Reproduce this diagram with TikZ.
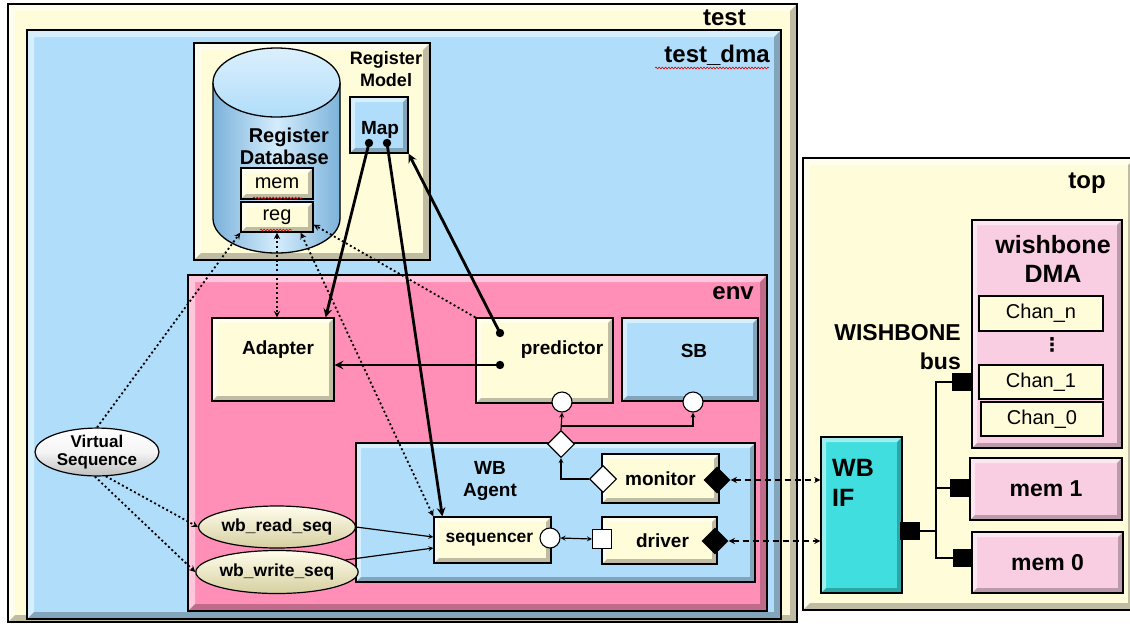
\documentclass[tikz,border=0pt]{standalone}
\usepackage{fontspec}
\setmainfont{Liberation Sans}
\newfontfamily\dotsfont{DejaVu Sans}
\usetikzlibrary{shapes.geometric,decorations.pathmorphing}

\definecolor{cream}{RGB}{255,252,218}
\definecolor{skyblue}{RGB}{176,221,250}
\definecolor{dbblue}{RGB}{124,178,218}
\definecolor{envpink}{RGB}{255,143,183}
\definecolor{dmapink}{RGB}{250,206,226}
\definecolor{wbteal}{RGB}{64,222,222}
\definecolor{beige}{RGB}{214,207,160}

\newcommand{\frmfont}{\fontsize{24}{26}\selectfont\bfseries}
\newcommand{\boxfont}{\fontsize{19}{22}\selectfont\bfseries}
\newcommand{\seqfont}{\fontsize{17.5}{18}\selectfont\bfseries}
\newcommand{\regfont}{\fontsize{20}{22}\selectfont}
\newcommand{\hwfont}{\fontsize{23}{29}\selectfont\bfseries}

\tikzset{
  bevel/.style={path picture={
    \fill[white,opacity=.5] (path picture bounding box.north west)
      -- (path picture bounding box.north east)
      -- ([shift={(-#1pt,-#1pt)}]path picture bounding box.north east)
      -- ([shift={(#1pt,-#1pt)}]path picture bounding box.north west)
      -- ([shift={(#1pt,#1pt)}]path picture bounding box.south west)
      -- (path picture bounding box.south west) -- cycle;
    \fill[black,opacity=.25] (path picture bounding box.south east)
      -- (path picture bounding box.south west)
      -- ([shift={(#1pt,#1pt)}]path picture bounding box.south west)
      -- ([shift={(-#1pt,#1pt)}]path picture bounding box.south east)
      -- ([shift={(-#1pt,-#1pt)}]path picture bounding box.north east)
      -- (path picture bounding box.north east) -- cycle;
  }},
  bevel/.default=5,
  frame/.style={draw, line width=1.3pt, inner sep=0pt, bevel=7},
  box/.style={draw, line width=1.3pt, inner sep=0pt, bevel, font=\boxfont},
  chan/.style={draw, line width=1.3pt, inner sep=0pt, fill=cream, font=\regfont},
  seqnode/.style={ellipse, draw, line width=1.2pt, inner sep=0pt, font=\seqfont},
  frmlbl/.style={font=\frmfont, inner sep=0pt, anchor=east},
  txt/.style={font=\boxfont, inner sep=0pt, align=center},
  port/.style={circle, draw, line width=1.1pt, fill=white, minimum size=20pt, inner sep=0pt},
  wdia/.style={diamond, draw, line width=1.1pt, fill=white, minimum size=27pt, inner sep=0pt},
  bdia/.style={diamond, fill=black, minimum size=27pt, inner sep=0pt},
  bpin/.style={fill=black, minimum width=20pt, minimum height=18pt, inner sep=0pt},
  dots/.style={line width=1.8pt, dash pattern=on 2pt off 2.6pt},
  thk/.style={line width=2.8pt, ->},
  thn/.style={line width=1.2pt},
  dsh/.style={line width=1.7pt, dash pattern=on 6pt off 4pt, <->},
  bus/.style={line width=2pt},
  squiggle/.style={red!85!black, line width=.6pt, decorate,
    decoration={snake, amplitude=.9pt, segment length=3.2pt}},
}

\begin{document}
\begin{tikzpicture}[x=1pt, y=-1pt, >=stealth]
    \useasboundingbox[fill=white] (0,0) rectangle (1130,625);

    % test bench side
    \node[frame, fill=cream, minimum width=789, minimum height=618] (test) at (402.5,313) {};
    \node[frame, fill=skyblue, minimum width=754, minimum height=589] (testdma) at (404,324.5) {};
    \node[frmlbl] (testlbl) at (746,18) {test};
    \node[frmlbl] (dmalbl) at (770,55) {test\_dma};
    \draw[squiggle] (655,68) -- (769,68);

    % register model with its database
    \node[frame, fill=cream, minimum width=236, minimum height=217] (regmodel) at (312,151.5) {};
    \node[txt, font=\fontsize{18}{22}\selectfont\bfseries] (rmlbl) at (386,69) {Register\\Model};
    \fill[left color=dbblue, right color=dbblue, middle color=skyblue!55!white]
        (213,82.5) -- (213,218.5) arc (180:0:63.5 and 34.5) -- (340,82.5) -- cycle;
    \draw[line width=1.3pt] (213,82.5) -- (213,218.5) arc (180:0:63.5 and 34.5) -- (340,82.5);
    \draw[line width=1.3pt, top color=skyblue!45!white, bottom color=skyblue]
        (276.5,82.5) ellipse (63.5 and 34.5);
    \node[txt, font=\fontsize{20}{22}\selectfont\bfseries, align=right, anchor=east] (dblbl) at (329,146) {Register\\Database};
    \node[box, fill=cream, font=\regfont, minimum width=72, minimum height=31] (mem) at (277,183.5) {mem};
    \node[box, fill=cream, font=\regfont, minimum width=72, minimum height=30] (reg) at (277,217) {reg};
    \draw[squiggle] (253,198) -- (302,198);
    \draw[squiggle] (260,230) -- (292,230);
    \node[box, fill=skyblue, minimum width=58, minimum height=56] (map) at (379,125) {};
    \node[txt] (maplbl) at (380,130) {Map};
    \coordinate (mapa) at (369,143);
    \coordinate (mapb) at (387,143);

    % env
    \node[frame, fill=envpink, minimum width=579, minimum height=336] (env) at (477.5,443) {};
    \node[frmlbl] (envlbl) at (754,293) {env};
    \node[box, fill=cream, minimum width=122, minimum height=83] (adapter) at (273,359.5) {};
    \node[txt] (adlbl) at (278,350) {Adapter};
    \node[box, fill=cream, minimum width=137, minimum height=85] (predictor) at (544.5,360.5) {};
    \node[txt] (prlbl) at (562,350) {predictor};
    \coordinate (preda) at (500,333);
    \coordinate (predb) at (500,365);
    \node[box, fill=skyblue, minimum width=136, minimum height=83] (sb) at (690,359.5) {};
    \node[txt] (sblbl) at (694,351) {SB};
    \node[port] (pcirc) at (562,402) {};
    \node[port] (sbcirc) at (693,402) {};

    % WB agent
    \node[box, fill=skyblue, minimum width=399, minimum height=139] (agent) at (555.5,512.5) {};
    \node[txt] (aglbl) at (490,481) {WB\\Agent};
    \node[box, fill=cream, minimum width=117, minimum height=49] (monitor) at (660.5,478.5) {monitor};
    \node[box, fill=cream, minimum width=115, minimum height=47] (driver) at (659.5,540.5) {\hspace*{6pt}driver};
    \node[box, fill=cream, font=\seqfont, minimum width=117, minimum height=46] (seq) at (492.5,540) {sequencer\hspace*{6pt}};
    \node[wdia] (adia) at (561,444) {};
    \node[wdia] (mdia) at (603,479) {};
    \node[bdia] (mbd) at (717,480) {};
    \node[bdia] (dbd) at (715,541) {};
    \node[port] (scirc) at (550,538) {};
    \node[draw, line width=1.1pt, fill=white, minimum size=19pt, inner sep=0pt] (dsq) at (602,539) {};
    \coordinate (fork) at ([yshift=4pt]adia.north);

    % sequences
    \node[seqnode, top color=white, bottom color=gray!50, middle color=gray!8, minimum width=124, minimum height=44,
          align=center, font=\fontsize{17}{18}\selectfont\bfseries] (vseq) at (97,452) {Virtual\\Sequence};
    \node[seqnode, top color=cream!50!white, bottom color=beige, minimum width=125, minimum height=42] (rdseq) at (277,527) {wb\_read\_seq};
    \node[seqnode, top color=cream!50!white, bottom color=beige, minimum width=125, minimum height=43] (wrseq) at (277,572) {wb\_write\_seq};

    % DUT side
    \node[frame, fill=cream, minimum width=332, minimum height=452] (top) at (969,384) {};
    \node[frmlbl] (toplbl) at (1106,183) {top};
    \node[txt, font=\hwfont, align=right, anchor=east] (buslbl) at (961,347) {WISHBONE\\bus};
    \node[box, fill=dmapink, minimum width=150, minimum height=228] (dma) at (1047,334) {};
    \node[txt, font=\fontsize{25}{29}\selectfont\bfseries] (dmalbl2) at (1053,259) {wishbone\\DMA};
    \node[chan] (chann) at (1041,313.5) [minimum width=124, minimum height=35] {Chan\_n};
    \node[txt, font=\dotsfont\fontsize{19}{20}\selectfont\bfseries] (chdots) at (1052,345) {⋮};
    \node[chan] (chan1) at (1041,382) [minimum width=124, minimum height=34] {Chan\_1};
    \node[chan] (chan0) at (1042,419) [minimum width=122, minimum height=34] {Chan\_0};
    \node[box, fill=wbteal, minimum width=81, minimum height=156] (wbif) at (861.5,515) {};
    \node[txt, font=\fontsize{25}{30}\selectfont\bfseries, align=left, anchor=west] (wblbl) at (832,483) {WB\\IF};
    \node[box, fill=dmapink, font=\hwfont, minimum width=152, minimum height=62] (mem1) at (1046,489) {mem 1};
    \node[box, fill=dmapink, font=\hwfont, minimum width=151, minimum height=61] (mem0) at (1047.5,562.5) {mem 0};
    \node[bpin] (pif) at (910,531) {};
    \node[bpin] (pdma) at (962,382) {};
    \node[bpin] (pm1) at (960,488) {};
    \node[bpin] (pm0) at (963,558) {};
    \coordinate (trunk) at (936,531);

    % bus wiring
    \draw[bus] (pif.east) -- (trunk);
    \draw[bus] (pdma.west) -- (trunk |- pdma) -- (trunk |- pm0) -- (pm0.west);
    \draw[bus] (trunk |- pm1) -- (pm1.west);

    % register layer access
    \draw[dots,->] (vseq.north) -- (reg.south west);
    \draw[dots,<->] (reg.south) -- (reg.south |- adapter.north);
    \draw[dots,<->] (seq.north west) -- ([xshift=-13pt]reg.south east);
    \draw[dots,->] (predictor.north west) -- ([yshift=8pt]reg.south east);
    \draw[dots,->] (vseq.-70) -- (rdseq.west);
    \draw[dots,->] (vseq.-95) -- (wrseq.west);

    \draw[thk] (mapa) -- ([xshift=-9pt]adapter.north east);
    \draw[thk] (mapb) -- ([xshift=9pt]seq.north west);
    \draw[thk] (preda) -- (map.south east);
    \draw[thk] (predb) -- (predb -| adapter.east);
    \foreach \d in {mapa,mapb,preda,predb}
        \fill (\d) circle (4.2);

    % analysis path and stimulus
    \draw[thn,->] (mdia.west) -| (adia.south);
    \draw[thn,->] (adia.north) -- (pcirc.south);
    \draw[thn,->] (fork) -| (sbcirc.south);
    \draw[thn,->] (rdseq.east) -- ([yshift=3pt]seq.west);
    \draw[thn,->] (wrseq.10) -- ([yshift=-8pt]seq.west);
    \draw[thn,<->] (scirc.east) -- (dsq.west);

    % pins to the DUT
    \draw[dsh] (mbd.east) -- (mbd.east -| wbif.west);
    \draw[dsh] (dbd.east) -- (dbd.east -| wbif.west);
\end{tikzpicture}
\end{document}
